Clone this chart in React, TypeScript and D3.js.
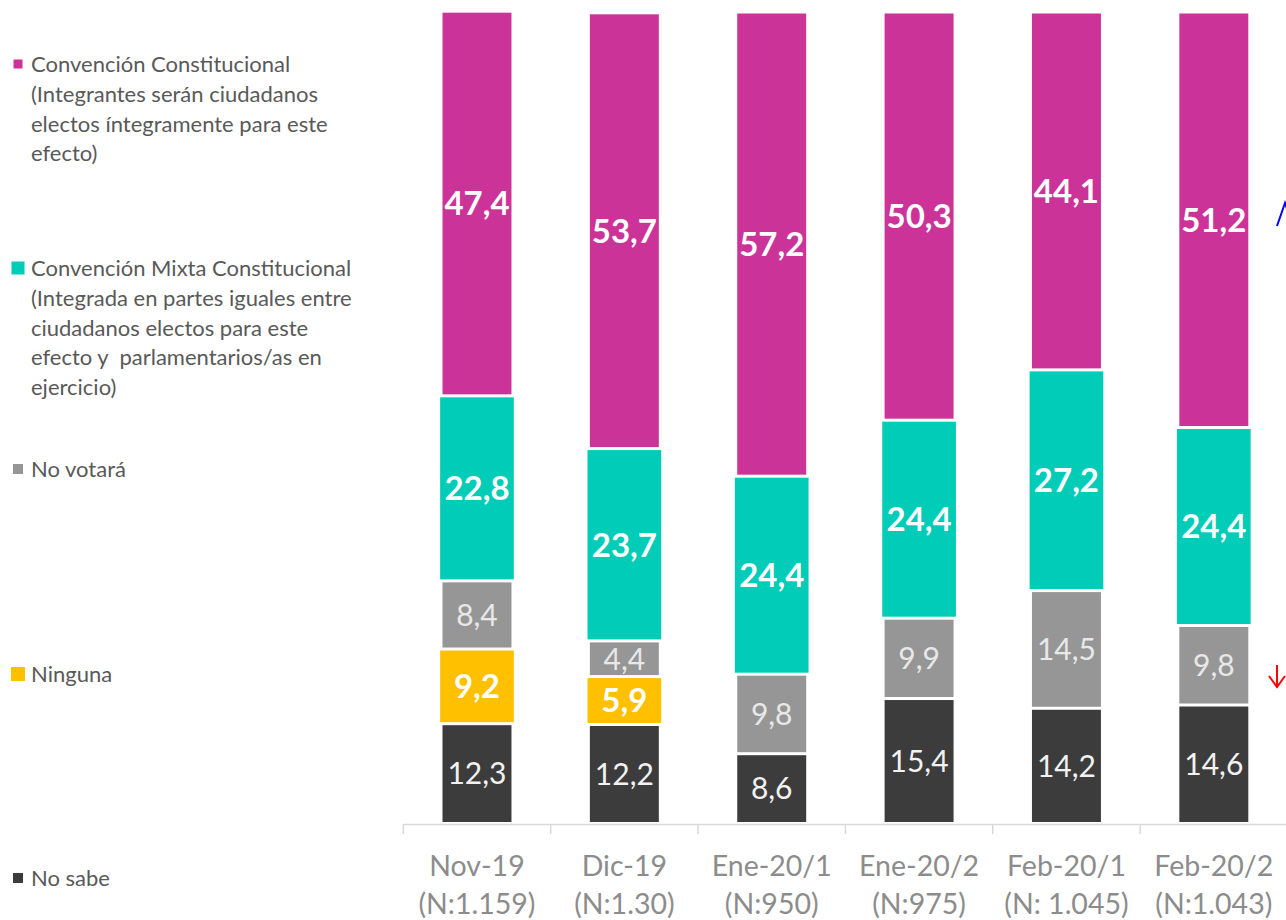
import React from "react";
import * as d3 from "d3";

const categories = ["Nov-19", "Dic-19", "Ene-20/1", "Ene-20/2", "Feb-20/1", "Feb-20/2"];
const sampleLabels = ["(N:1.159)", "(N:1.30)", "(N:950)", "(N:975)", "(N: 1.045)", "(N:1.043)"];
const noSabe = [12.3, 12.2, 8.6, 15.4, 14.2, 14.6];
const ninguna = [9.2, 5.9, 0, 0, 0, 0];
const noVotara = [8.4, 4.4, 9.8, 9.9, 14.5, 9.8];
const mixta = [22.8, 23.7, 24.4, 24.4, 27.2, 24.4];
const constitucional = [47.4, 53.7, 57.2, 50.3, 44.1, 51.2];

const seriesKeys = ["noSabe", "ninguna", "noVotara", "mixta", "constitucional"];
const seriesValues: Record<string, number[]> = { noSabe, ninguna, noVotara, mixta, constitucional };
const seriesColors: Record<string, string> = {
  noSabe: "#3c3c3c",
  ninguna: "#ffc000",
  noVotara: "#969696",
  mixta: "#00ccb8",
  constitucional: "#cb3398",
};
const seriesBold: Record<string, boolean> = {
  noSabe: false, ninguna: true, noVotara: false, mixta: true, constitucional: true,
};
const seriesLabelColor: Record<string, string> = {
  noSabe: "#f2f2f2", ninguna: "#ffffff", noVotara: "#e8e8e8", mixta: "#ffffff", constitucional: "#ffffff",
};
const seriesWide: Record<string, boolean> = {
  noSabe: false, ninguna: true, noVotara: false, mixta: true, constitucional: false,
};

const legendItems = [
  { key: "constitucional", lines: ["Convención Constitucional", "(Integrantes serán ciudadanos", "electos íntegramente para este", "efecto)"] },
  { key: "mixta", lines: ["Convención Mixta Constitucional", "(Integrada en partes iguales entre", "ciudadanos electos para este", "efecto y  parlamentarios/as en", "ejercicio)"] },
  { key: "noVotara", lines: ["No votará"] },
  { key: "ninguna", lines: ["Ninguna"] },
  { key: "noSabe", lines: ["No sabe"] },
];

const W = 1286;
const H = 920;
const FONT = "Lato, 'Open Sans', sans-serif";

export default function App() {
  React.useEffect(() => {
    document.body.style.margin = "0";
    document.body.style.overflow = "hidden";
  }, []);

  const x = d3.scaleBand<string>().domain(categories).range([403.3, 1287.5]).padding(0);
  const y = d3.scaleLinear().domain([0, 100]).range([823.5, 12]);
  const bw = x.bandwidth();

  const rows = categories.map((c, i) => {
    const r: any = { cat: c };
    seriesKeys.forEach((k) => (r[k] = seriesValues[k][i]));
    return r;
  });
  const stacked = d3.stack<any>().keys(seriesKeys)(rows);

  const legendY: Record<string, number> = {
    constitucional: 72,
    mixta: 276,
    noVotara: 477,
    ninguna: 682,
    noSabe: 886,
  };
  const markerSize: Record<string, number> = {
    constitucional: 9, mixta: 13, noVotara: 10, ninguna: 14, noSabe: 10,
  };

  return (
    <svg width={W} height={H} style={{ position: "absolute", left: 0, top: 0, background: "#fff" }} fontFamily={FONT}>
      {/* legend */}
      {legendItems.map((it) => {
        const by = legendY[it.key];
        const s = markerSize[it.key];
        return (
          <g key={it.key}>
            <rect x={18 - s / 2} y={by - 8 - s / 2} width={s} height={s} fill={seriesColors[it.key]} />
            {it.lines.map((ln, j) => (
              <text key={j} x={31} y={by + j * 29.8} fontSize={22} fill="#595959" style={{ whiteSpace: "pre" }}>
                {ln}
              </text>
            ))}
          </g>
        );
      })}

      {/* bars */}
      {stacked.map((layer) => {
        const k = layer.key;
        return (
          <g key={k}>
            {layer.map((d, i) => {
              const v = seriesValues[k][i];
              if (!v) return null;
              const cx = (x(categories[i]) as number) + bw / 2;
              const w = seriesWide[k] ? bw * 0.5 : bw * 0.468;
              const y0 = y(d[0]);
              const y1 = y(d[1]);
              const top = y1 + 1.5;
              const h = y0 - y1 - 3;
              return (
                <g key={i}>
                  <rect x={cx - w / 2} y={top} width={w} height={h} fill={seriesColors[k]} />
                  <text
                    x={cx}
                    y={(y0 + y1) / 2}
                    dy="0.36em"
                    textAnchor="middle"
                    fontSize={seriesBold[k] ? 33 : 30}
                    fontWeight={seriesBold[k] ? 700 : 400}
                    fill={seriesLabelColor[k]}
                  >
                    {v.toFixed(1).replace(".", ",")}
                  </text>
                </g>
              );
            })}
          </g>
        );
      })}

      {/* axis */}
      <line x1={403.3} x2={1287.5} y1={824.5} y2={824.5} stroke="#d9d9d9" strokeWidth={1.5} />
      {categories.map((c, i) => (
        <line key={"t" + i} x1={x(c) as number} x2={x(c) as number} y1={824.5} y2={834} stroke="#d9d9d9" strokeWidth={1.5} />
      ))}
      {categories.map((c, i) => {
        const cx = (x(c) as number) + bw / 2;
        return (
          <g key={"l" + i}>
            <text x={cx} y={876} textAnchor="middle" fontSize={28.5} fill="#8c8c8c">{c}</text>
            <text x={cx} y={914} textAnchor="middle" fontSize={28.5} fill="#8c8c8c">{sampleLabels[i]}</text>
          </g>
        );
      })}

      {/* arrows */}
      <g stroke="#0000ff" strokeWidth={2} fill="none">
        <path d="M1277,226 L1285,203 L1293,226" />
      </g>
      <g stroke="#ff0000" strokeWidth={2} fill="none">
        <path d="M1277,665 L1277,687" />
        <path d="M1269,676 L1277,687 L1285,676" />
      </g>
    </svg>
  );
}
